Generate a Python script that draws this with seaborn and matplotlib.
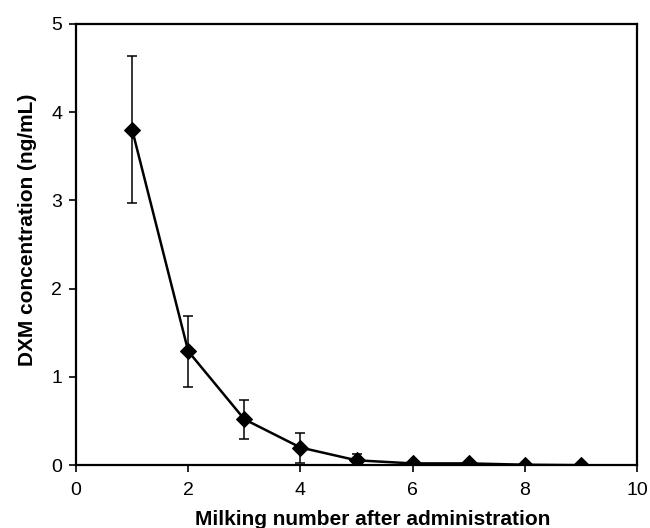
import matplotlib
matplotlib.use("Agg")
import matplotlib.pyplot as plt
import seaborn as sns
import pandas as pd

milking = [1, 2, 3, 4, 5, 6, 7, 8, 9]
conc = [3.80, 1.29, 0.52, 0.20, 0.055, 0.02, 0.02, 0.005, 0.0]
err = [0.83, 0.40, 0.22, 0.17, 0.07, 0.0, 0.0, 0.0, 0.0]

sns.set_style("white")
plt.rcParams['font.family'] = ['Liberation Sans', 'DejaVu Sans']

df = pd.DataFrame({"milking": milking, "conc": conc})

fig = plt.figure(figsize=(6.5, 5.28), dpi=100)
ax = fig.add_axes([0.117, 0.119, 0.863, 0.836])

ax.errorbar(milking, conc, yerr=err, fmt='none', ecolor='black',
            elinewidth=1.1, capsize=3.7, capthick=1.1, zorder=2)
sns.lineplot(data=df, x="milking", y="conc", ax=ax, color='black',
             linewidth=1.8, marker='D', markersize=8.5, markeredgecolor='black',
             markerfacecolor='black', zorder=3)

ax.set_xlim(0, 10)
ax.set_ylim(0, 5)
ax.set_xticks([0, 2, 4, 6, 8, 10])
ax.set_yticks([0, 1, 2, 3, 4, 5])
ax.tick_params(axis='both', direction='out', length=5, width=1.2,
               labelsize=14, color='black', labelcolor='black',
               bottom=True, left=True)
ax.tick_params(axis='x', pad=7)
ax.tick_params(axis='y', pad=5)
for s in ax.spines.values():
    s.set_color('black')
    s.set_linewidth(1.6)

ax.set_xlabel("Milking number after administration", fontsize=15,
              fontweight='bold', color='black')
ax.set_ylabel("DXM concentration (ng/mL)", fontsize=15,
              fontweight='bold', color='black')
ax.xaxis.set_label_coords(0.528, -0.102)
ax.yaxis.set_label_coords(-0.07, 0.533)

fig.savefig("out.png", dpi=100)
